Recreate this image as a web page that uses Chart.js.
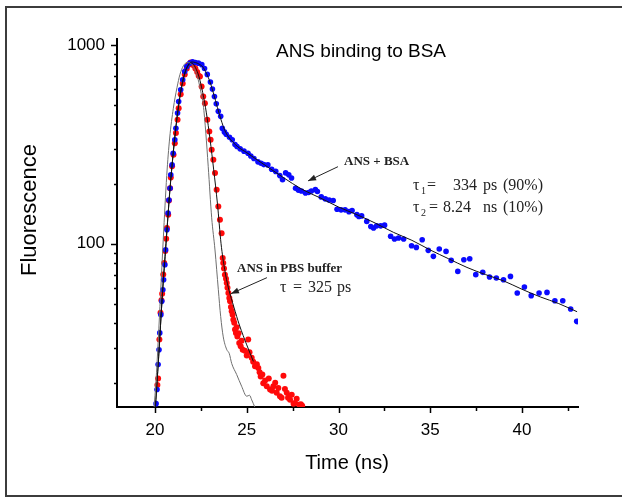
<!DOCTYPE html>
<html>
<head>
<meta charset="utf-8">
<script src="https://cdn.jsdelivr.net/npm/chart.js@4.4.1/dist/chart.umd.min.js"></script>
<style>
  html, body { margin: 0; padding: 0; background: #fff; }
  #wrap { width: 622px; height: 497px; }
</style>
</head>
<body>
<div id="wrap"><canvas id="decayChart" width="622" height="497"></canvas></div>
<script>
// ANS + BSA decay (blue dots), time in ns
const bsaTime = [20.06,20.11,20.17,20.22,20.26,20.32,20.37,20.43,20.47,20.54,20.58,20.65,20.71,20.76,20.82,20.86,20.93,20.99,21.08,21.14,
  21.23,21.29,21.40,21.51,21.62,21.73,21.90,22.05,22.20,22.37,22.55,22.70,22.85,23.02,23.13,23.24,23.34,23.45,23.58,23.67,
  23.78,23.88,24.06,24.21,24.36,24.47,24.64,24.85,25.07,25.22,25.39,25.61,25.78,25.93,26.15,26.36,26.58,26.80,26.95,27.12,
  27.29,27.44,27.66,27.81,27.98,28.20,28.37,28.52,28.74,28.85,29.06,29.28,29.49,29.71,29.92,30.14,30.36,30.57,30.74,31.00,
  31.11,31.26,31.54,31.76,31.91,32.08,32.30,32.51,32.84,33.05,33.27,33.55,33.98,34.24,34.56,34.89,35.17,35.49,35.86,36.14,
  36.50,36.83,37.15,37.48,37.86,38.23,38.60,38.99,39.37,39.74,40.13,40.50,40.93,41.36,41.79,42.22,42.65,42.98,43.04];
const bsaCounts = [15.7,18.5,24.7,29.3,35.6,44,51.3,58.7,65.9,78.4,93.3,117.6,142.6,166,190,222,249,285,333,381,
  454,519,594,667,735,778,809,822,815,809,795,760,710,650,600,550,505,463,437,380,
  365,355,343,333,315,308,300,292,285,276,268,258,254,250,249,237,231,220,210,227,
  222,214,190,186,184,180,181,184,187,183,172,168,166,165,149,148,148,145,147,140,
  137,138,129.5,122,120,123,123,124,109,105.6,106.8,105.6,97.7,95.8,104.7,92.6,86.4,94,91.5,82.5,
  72.6,83.1,84.1,69.9,71.8,68,67.2,65.9,68.5,56.5,60.6,54.8,56.5,56.9,51.7,51.7,47,40.7,40.6];

// ANS in PBS buffer decay (red dots)
const pbsTime = [20.13,20.17,20.24,20.30,20.35,20.39,20.45,20.50,20.56,20.61,20.65,20.72,20.76,20.82,20.86,20.93,21.01,21.08,21.14,21.23,
  21.29,21.40,21.51,21.62,21.73,21.83,21.94,22.02,22.10,22.20,22.30,22.38,22.45,22.54,22.63,22.72,22.85,22.96,23.03,23.09,
  23.18,23.27,23.36,23.45,23.54,23.63,23.69,23.72,23.76,23.81,23.87,23.91,23.95,24.00,24.05,24.09,24.14,24.18,24.23,24.27,
  24.32,24.36,24.41,24.45,24.49,24.55,24.59,24.67,24.72,24.78,24.90,25.00,25.08,25.15,25.27,25.35,25.45,25.55,25.63,25.70,
  25.76,25.85,25.90,26.00,26.09,26.20,26.27,26.38,26.45,26.55,26.63,26.72,26.81,26.90,27.00,27.08,27.18,27.25,27.36,27.45,
  27.55,27.63,27.72,27.86,27.95,28.02];
const pbsCounts = [19.5,21,33,45,52,56,70,80,92,106,120,140,165,190,215,245,280,320,360,420,
  480,565,640,710,760,795,815,810,790,760,730,700,693,617,550,509,420,367,333,297,
  264,227,187,154,132,113,84.7,80,75,69.9,66.6,63.5,60,56.5,53.3,51.3,48,45.7,44,41.5,
  40,37,35.6,38,34.2,35.5,31.7,30.5,32.5,29.3,29,27.4,33,28.5,26.7,25.5,24.2,24.8,23.7,22.6,
  21.5,22,19.9,20.5,19.2,21,18.5,18.2,19.2,20,17.8,18.8,17.1,16.8,21.7,18.6,17.8,16.8,16.4,17.4,
  15.7,15.8,16.6,15.5,15.6,15.3];

// instrument response (grey line)
const irfTime = [19.95,20.05,20.18,20.30,20.45,20.64,20.80,21.00,21.20,21.36,21.55,21.75,21.95,22.15,22.35,22.50,22.63,22.77,22.90,23.09,
  23.27,23.45,23.58,23.72,23.90,24.05,24.18,24.45,24.72,25.00,25.15,25.27,25.45];
const irfCounts = [15,20,33,55,105,220,340,480,610,710,785,815,805,755,670,580,500,360,245,135,
  93,59,43,34,29.5,28,25,22,19.2,17.1,17.3,16.4,15];

// fitted curves (black lines)
const bsaFitTime = [20.0,20.2,20.4,20.6,20.8,21.0,21.2,21.4,21.6,21.8,22.0,22.2,22.4,22.6,22.8,23.0,23.2,23.4,23.6,23.8,
  24.0,24.5,25,26,27,28,29,30,31,32,33,34,35,36,37,38,39,40,41,42,43];
const bsaFitCounts = [14,27,55,100,180,290,430,580,710,790,820,815,800,775,720,650,565,485,420,372,
  345,308,287,248,215,188,170,153,140,127,114,104,93,84,76,70,65,59,54,50,45.5];
const pbsFitTime = [20.0,20.2,20.4,20.6,20.8,21.0,21.2,21.4,21.6,21.8,22.0,22.2,22.4,22.6,22.8,23.0,23.2,23.4,23.6,23.8,
  24.0,24.3,24.6,25.0,25.36];
const pbsFitCounts = [14,27,55,100,180,290,430,580,705,785,810,770,690,575,455,335,235,160,100,74,
  60,48,39,31,25.6];

// axes
const xTicks = [20,22.5,25,27.5,30,32.5,35,37.5,40,42.5];
const yTicks = [20,30,40,50,60,70,80,90,100,200,300,400,500,600,700,800,900,1000];
const yLabelled = [100,1000];

// annotations, placed in data units
const notes = [
  {text: 'ANS + BSA', t: 30.30, c: 249.5, bold: true},
  {text: 'ANS in PBS buffer', t: 24.47, c: 72.3, bold: true}
];
const arrows = [
  {fromT: 29.97, fromC: 244, toT: 28.34, toC: 207},
  {fromT: 26.10, fromC: 67.5, toT: 24.14, toC: 56.1}
];
const tauLines = [
  {t: 34.06, c: 186.6, parts: [['τ',0],['1',8,true],['=',14],['334',40],['ps',70],['(90%)',90]]},
  {t: 34.06, c: 144.9, parts: [['τ',0],['2',8,true],['=',16],['8.24',30],['ns',70],['(10%)',90]]},
  {t: 26.81, c: 57.4, parts: [['τ',0],['=',13],['325',28],['ps',57]]}
];

const pts = (xs, ys) => xs.map((x, i) => ({x: x, y: ys[i]}));

const SANS = '"Liberation Sans", Arial, sans-serif';
const SERIF = '"Liberation Serif", "Times New Roman", serif';

const decorations = {
  id: 'decorations',
  beforeDraw(chart) {
    const ctx = chart.ctx;
    ctx.save();
    ctx.strokeStyle = '#3c3c3c';
    ctx.lineWidth = 2;
    ctx.strokeRect(6, 7, 640, 489);
    ctx.restore();
  },
  afterDraw(chart) {
    const ctx = chart.ctx;
    const xs = chart.scales.x, ys = chart.scales.y;
    const area = chart.chartArea;
    ctx.save();
    // tick marks
    ctx.strokeStyle = '#000';
    ctx.lineWidth = 1.5;
    xs.ticks.forEach(tk => {
      const px = Math.round(xs.getPixelForValue(tk.value)) + 0.5;
      const len = tk.value % 5 === 0 ? 6 : 4;
      ctx.beginPath();
      ctx.moveTo(px, area.bottom);
      ctx.lineTo(px, area.bottom + len);
      ctx.stroke();
    });
    ys.ticks.forEach(tk => {
      const py = Math.round(ys.getPixelForValue(tk.value)) + 0.5;
      const len = yLabelled.includes(tk.value) ? 6 : 3;
      ctx.beginPath();
      ctx.moveTo(area.left - len, py);
      ctx.lineTo(area.left, py);
      ctx.stroke();
    });

    // title and axis titles
    ctx.fillStyle = '#000';
    ctx.textAlign = 'center';
    ctx.textBaseline = 'alphabetic';
    ctx.font = '19px ' + SANS;
    ctx.fillText('ANS binding to BSA', 361, 57);
    ctx.font = '20px ' + SANS;
    ctx.fillText('Time (ns)', 347, 469);
    ctx.save();
    ctx.translate(36, 210);
    ctx.rotate(-Math.PI / 2);
    ctx.font = '22px ' + SANS;
    ctx.fillText('Fluorescence', 0, 0);
    ctx.restore();

    // annotations
    ctx.textAlign = 'left';
    ctx.fillStyle = '#222';
    notes.forEach(n => {
      ctx.font = (n.bold ? 'bold ' : '') + '13px ' + SERIF;
      ctx.fillText(n.text, xs.getPixelForValue(n.t), ys.getPixelForValue(n.c));
    });
    tauLines.forEach(l => {
      const x0 = xs.getPixelForValue(l.t), y0 = ys.getPixelForValue(l.c);
      l.parts.forEach(p => {
        ctx.font = (p[2] ? '10px ' : '16px ') + SERIF;
        ctx.fillText(p[0], x0 + p[1], y0 + (p[2] ? 4 : 0));
      });
    });
    ctx.strokeStyle = '#222';
    ctx.fillStyle = '#222';
    ctx.lineWidth = 1;
    arrows.forEach(a => {
      const x1 = xs.getPixelForValue(a.fromT), y1 = ys.getPixelForValue(a.fromC);
      const x2 = xs.getPixelForValue(a.toT), y2 = ys.getPixelForValue(a.toC);
      const ang = Math.atan2(y2 - y1, x2 - x1);
      ctx.beginPath();
      ctx.moveTo(x1, y1);
      ctx.lineTo(x2, y2);
      ctx.stroke();
      ctx.beginPath();
      ctx.moveTo(x2, y2);
      ctx.lineTo(x2 - 8 * Math.cos(ang) + 3 * Math.sin(ang), y2 - 8 * Math.sin(ang) - 3 * Math.cos(ang));
      ctx.lineTo(x2 - 8 * Math.cos(ang) - 3 * Math.sin(ang), y2 - 8 * Math.sin(ang) + 3 * Math.cos(ang));
      ctx.closePath();
      ctx.fill();
    });
    ctx.restore();
  }
};

const lineSet = (label, xs, ys, color) => ({
  label: label,
  data: pts(xs, ys),
  showLine: true,
  borderColor: color,
  borderWidth: 1,
  pointRadius: 0,
  cubicInterpolationMode: 'monotone',
  order: 0
});

const dotSet = (label, xs, ys, color, r) => ({
  label: label,
  data: pts(xs, ys),
  showLine: false,
  backgroundColor: color,
  borderWidth: 0,
  pointRadius: r,
  order: 1
});

new Chart(document.getElementById('decayChart'), {
  type: 'scatter',
  data: {
    datasets: [
      dotSet('ANS + BSA', bsaTime, bsaCounts, '#0a0aff', 2.8),
      dotSet('ANS in PBS buffer', pbsTime, pbsCounts, '#ff0a0a', 3),
      lineSet('IRF', irfTime, irfCounts, '#6e6e6e'),
      lineSet('fit BSA', bsaFitTime, bsaFitCounts, '#111'),
      lineSet('fit PBS', pbsFitTime, pbsFitCounts, '#111')
    ]
  },
  options: {
    responsive: false,
    devicePixelRatio: 1,
    animation: false,
    layout: {padding: {left: 0, top: 39, right: 44, bottom: 0}},
    plugins: {legend: {display: false}, tooltip: {enabled: false}, title: {display: false}},
    scales: {
      x: {
        type: 'linear',
        min: 17.93,
        max: 43.05,
        afterBuildTicks: s => { s.ticks = xTicks.map(v => ({value: v})); },
        afterFit: s => { s.height = 90; },
        grid: {display: true, drawOnChartArea: false, drawTicks: false},
        border: {display: true, color: '#000', width: 2},
        ticks: {
          autoSkip: false, maxRotation: 0, padding: 13,
          color: '#000', font: {family: SANS, size: 17},
          callback: v => (v % 5 === 0 ? String(v) : '')
        }
      },
      y: {
        type: 'logarithmic',
        min: 15.1,
        max: 1070,
        afterBuildTicks: s => { s.ticks = yTicks.map(v => ({value: v})); },
        afterFit: s => { s.width = 117; },
        grid: {display: true, drawOnChartArea: false, drawTicks: false},
        border: {display: true, color: '#000', width: 2},
        ticks: {
          autoSkip: false, padding: 12,
          color: '#000', font: {family: SANS, size: 17},
          callback: v => (yLabelled.includes(v) ? String(v) : '')
        }
      }
    }
  },
  plugins: [decorations]
});
</script>
</body>
</html>
